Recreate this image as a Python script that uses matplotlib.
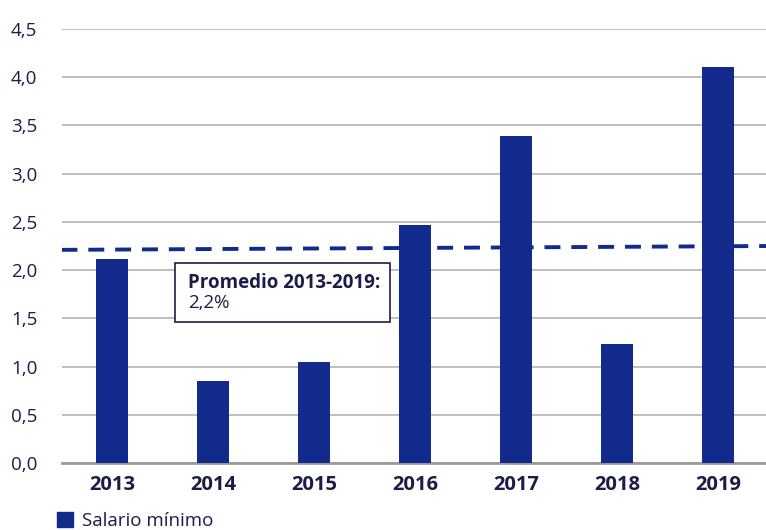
import matplotlib.pyplot as plt
from matplotlib.patches import Patch, Rectangle

years = ["2013", "2014", "2015", "2016", "2017", "2018", "2019"]
salario = [2.12, 0.85, 1.05, 2.47, 3.39, 1.23, 4.11]
promedio_ends = [2.21, 2.25]
yticks = [0.0, 0.5, 1.0, 1.5, 2.0, 2.5, 3.0, 3.5, 4.0, 4.5]

BAR = "#112a8c"
TEXT = "#1c1c48"
GRID = "#b3b3b3"

plt.rcParams["font.family"] = ["Open Sans", "DejaVu Sans"]

fig = plt.figure(figsize=(7.66, 5.30), dpi=100)
ax = fig.add_axes([61.5 / 766, 1 - 463 / 530, 707 / 766, 434 / 530])

x = list(range(len(years)))
ax.bar(x, salario, width=0.32, color=BAR, zorder=3)
ax.plot([-0.5, len(years) - 0.5], promedio_ends, color=BAR, lw=2.8,
        dashes=(4.1, 2.8), zorder=2)

ax.set_xlim(-0.5, len(years) - 0.5)
ax.set_ylim(0, 4.5)
ax.set_yticks(yticks)
ax.set_yticklabels([f"{v:.1f}".replace(".", ",") for v in yticks],
                   fontsize=13.5, color=TEXT)
ax.set_xticks(x)
ax.set_xticklabels(years, fontsize=14.5, fontweight="bold", color=TEXT)
ax.tick_params(axis="y", length=0, pad=0)
ax.tick_params(axis="x", length=0, pad=9)
for lbl in ax.get_yticklabels():
    lbl.set_horizontalalignment("left")
    lbl.set_x(-(61.5 - 11) / 707)

ax.grid(axis="y", color=GRID, lw=1.2, zorder=0)
for s in ["top", "right", "left"]:
    ax.spines[s].set_visible(False)
ax.spines["bottom"].set_color("#999999")
ax.spines["bottom"].set_linewidth(2)

# annotation box with the period average
ax.add_patch(Rectangle((0.624, 1.462), 2.128, 0.612, facecolor="white",
                       edgecolor=TEXT, lw=1.2, zorder=4))
ax.text(0.75, 1.866, "Promedio 2013-2019:", fontsize=13.5, fontweight="bold",
        color=TEXT, zorder=5, va="center")
ax.text(0.75, 1.659, "2,2%", fontsize=13.5, color=TEXT, zorder=5, va="center")

fig.legend(handles=[Patch(color=BAR, label="Salario mínimo")],
           loc="center left", bbox_to_anchor=(57 / 766, 1 - 521 / 530),
           frameon=False, fontsize=13.5, handlelength=0.85, handleheight=0.85,
           handletextpad=0.5, borderpad=0, borderaxespad=0, labelcolor=TEXT)

fig.savefig("out.png", dpi=100)
